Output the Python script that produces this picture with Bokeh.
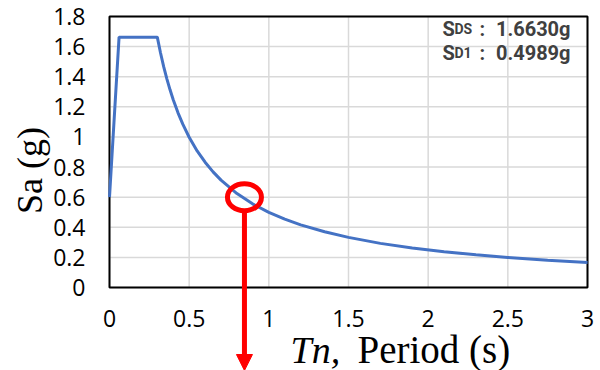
import numpy as np
from bokeh.plotting import figure
from bokeh.models import (Range1d, FixedTicker, CustomJSTickFormatter, Label,
                          Arrow, NormalHead, ColumnDataSource)
from bokeh.embed import file_html
from bokeh.resources import INLINE

# ---- data ----
period = [0.0, 0.06, 0.30, 0.32, 0.34, 0.36, 0.38, 0.40, 0.43, 0.46, 0.50,
          0.55, 0.60, 0.65, 0.70, 0.80, 0.90, 1.00, 1.10, 1.20, 1.35, 1.50,
          1.70, 1.90, 2.10, 2.30, 2.50, 2.75, 3.00]
sa = [0.600, 1.663, 1.663, 1.559, 1.467, 1.386, 1.313, 1.247, 1.160, 1.085,
      0.998, 0.907, 0.832, 0.768, 0.713, 0.624, 0.554, 0.499, 0.454, 0.416,
      0.370, 0.333, 0.293, 0.263, 0.238, 0.217, 0.200, 0.181, 0.166]

x_ticks = [0, 0.5, 1, 1.5, 2, 2.5, 3]
y_ticks = [0, 0.2, 0.4, 0.6, 0.8, 1.0, 1.2, 1.4, 1.6, 1.8]

marker_t = [0.847]
marker_sa = [0.60]

sds_value = "1.6630g"
sd1_value = "0.4989g"

x0, x1 = x_ticks[0], x_ticks[-1]
y0, y1 = y_ticks[0], y_ticks[-1]

# frame covers the whole canvas; the plot area [0,3]x[0,1.8] sits inside it
PX_X = 3 / 478.0      # data per pixel (x)
PX_Y = 1.8 / 271.0    # data per pixel (y)
xr = Range1d(-109 * PX_X, 3 + 13 * PX_X)
yr = Range1d(-83 * PX_Y, 1.8 + 16 * PX_Y)

def px2x(px):
    return (px - 109) * PX_X

def py2y(py):
    return (287 - py) * PX_Y

p = figure(width=600, height=370, output_backend="svg", toolbar_location=None,
           x_range=xr, y_range=yr, min_border=0)
p.outline_line_color = None
p.background_fill_color = "white"
p.border_fill_color = "white"
p.grid.visible = False

fmt = CustomJSTickFormatter(code="return (Math.round(tick*10)/10).toString();")
p.xaxis.ticker = FixedTicker(ticks=x_ticks)
p.yaxis.ticker = FixedTicker(ticks=y_ticks)
p.xaxis.fixed_location = y0
p.yaxis.fixed_location = x0
p.xaxis.bounds = (x0, x1)
# y bounds extended below 0 so that the axis title is centred where the reference has it
p.yaxis.bounds = (py2y(170) * 2 - y1, y1)
for ax in (p.xaxis, p.yaxis):
    ax.formatter = fmt
    ax.major_tick_line_color = None
    ax.minor_tick_line_color = None
    ax.axis_line_color = None
    ax.major_label_text_font = "Open Sans"
    ax.major_label_text_font_size = "23px"
    ax.major_label_text_color = "black"
p.yaxis.major_label_standoff = 18
p.xaxis.major_label_standoff = 16

p.yaxis.axis_label = "Sa (g)"
p.yaxis.axis_label_text_font = "Liberation Serif"
p.yaxis.axis_label_text_font_style = "normal"
p.yaxis.axis_label_text_font_size = "36px"
p.yaxis.axis_label_text_color = "black"
p.yaxis.axis_label_standoff = 0

# grid lines of the plot area
p.segment(x0=x_ticks, y0=[y0] * len(x_ticks), x1=x_ticks, y1=[y1] * len(x_ticks),
          line_color="#d9d9d9", line_width=1.5)
p.segment(x0=[x0] * len(y_ticks), y0=y_ticks, x1=[x1] * len(y_ticks), y1=y_ticks,
          line_color="#d9d9d9", line_width=1.5)
# plot-area border
p.quad(left=[x0], right=[x1], bottom=[y0], top=[y1], fill_color=None,
       line_color="black", line_width=2)

src = ColumnDataSource(dict(t=period, sa=sa))
p.line("t", "sa", source=src, line_color="#4472C4", line_width=3)

# red circle marking the point
p.ellipse(x=marker_t, y=marker_sa, width=34, height=27, width_units="screen",
          height_units="screen", fill_color=None, line_color="red", line_width=5)

arrow = Arrow(x_start=marker_t[0], y_start=marker_sa[0] - 14 * PX_Y,
              x_end=marker_t[0], y_end=-83 * PX_Y,
              line_color="red", line_width=5,
              end=NormalHead(size=16, fill_color="red", line_color="red"))
p.add_layout(arrow)

# SDS / SD1 annotation
txt_col = "#404040"
fnt = "Roboto"
for base, sub, val in [(28, "DS", sds_value), (52, "D1", sd1_value)]:
    yb = py2y(base)
    p.add_layout(Label(x=px2x(442), y=yb, text="S", text_font=fnt, text_font_style="bold",
                       text_font_size="20px", text_color=txt_col,
                       text_align="left", text_baseline="alphabetic"))
    p.add_layout(Label(x=px2x(454), y=yb, text=sub, text_font=fnt, text_font_style="bold",
                       text_font_size="14px", text_color=txt_col,
                       text_align="left", text_baseline="alphabetic"))
    p.add_layout(Label(x=px2x(479), y=yb, text=":", text_font=fnt, text_font_style="bold",
                       text_font_size="20px", text_color=txt_col,
                       text_align="left", text_baseline="alphabetic"))
    p.add_layout(Label(x=px2x(570), y=yb, text=val, text_font=fnt, text_font_style="bold",
                       text_font_size="20px", text_color=txt_col,
                       text_align="right", text_baseline="alphabetic"))

# x axis title
p.add_layout(Label(x=px2x(290), y=py2y(349), text="Tn,", text_font="Liberation Serif",
                   text_font_style="italic", text_font_size="38px", text_color="black",
                   text_align="left", text_baseline="alphabetic"))
p.add_layout(Label(x=px2x(357), y=py2y(349), text="Period (s)", text_font="Liberation Serif",
                   text_font_size="39px", text_color="black",
                   text_align="left", text_baseline="alphabetic"))

open("out.html", "w").write(file_html(p, INLINE))
